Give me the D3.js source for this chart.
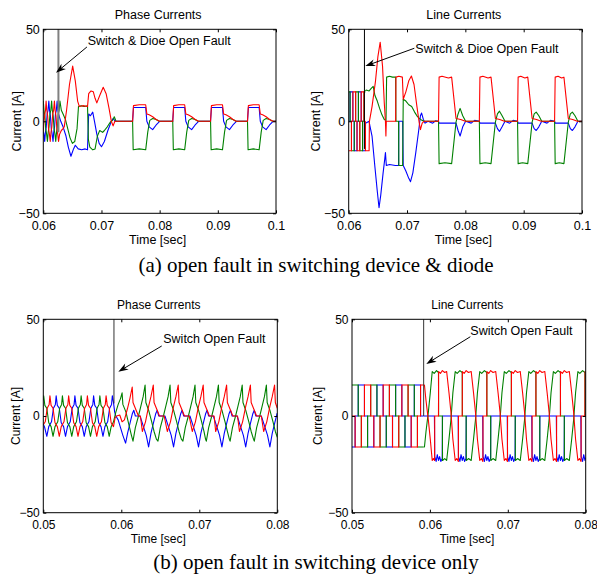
<!DOCTYPE html>
<html>
<head>
<meta charset="utf-8">
<script src="https://cdnjs.cloudflare.com/ajax/libs/d3/7.8.5/d3.min.js"></script>
<style>
  body { margin: 0; background: #fff; }
</style>
</head>
<body>
<div id="chart"></div>
<script>
// time values are in ms, currents in A

// ---- (a) top-left: phase currents, switch & diode open fault
var tlRed = [[60.0,-5.5],[60.12,0],[60.28,4],[60.38,6],[60.48,11],[60.6,6],[60.75,3],[60.9,-4],[61.05,-7],[61.19,-11],
  [61.32,-6],[61.47,-3],[61.62,4],[61.77,6],[61.91,11],[62.03,6],[62.18,3],[62.33,-4],[62.48,-7],[62.62,-11],
  [62.8,-7],[63.1,-5],[63.4,-4],[63.6,-3],[64.0,6],[64.5,20],[65.05,30],[65.5,22],[65.9,11],[66.2,8],[66.8,8.5],[67.6,8],
  [67.8,15],[68.2,16.5],[68.6,16],[68.9,12.5],[69.2,10],[69.7,14],[70.3,18.5],[70.8,15],[71.3,7],[71.7,0],[72.0,-2.5],[72.3,0],
  [75.35,0],[75.5,8.5],[76.5,9],[77.6,9],[77.8,4],[78.2,3.5],[78.8,2.5],[79.4,1],[80.0,0],
  [82.25,0],[82.4,8.5],[83.3,9],[84.3,9],[84.5,4],[84.9,3.5],[85.5,2.5],[86.1,1],[86.7,0],
  [88.75,0],[88.9,8.5],[89.8,9],[90.8,9],[91.0,4],[91.4,3.5],[92.0,2.5],[92.6,1],[93.2,0],
  [95.1,0],[95.25,8.5],[96.1,9],[97.1,9],[97.3,4],[97.7,3.5],[98.3,2.5],[98.9,1],[99.5,0],[100,0]];
var tlGreen = [[60.0,11],[60.12,6],[60.27,3],[60.42,-4],[60.57,-7],[60.71,-11],[60.84,-6],[60.99,-3],[61.14,4],[61.29,6],[61.43,11],
  [61.55,6],[61.7,3],[61.85,-4],[62.0,-7],[62.14,-11],[62.27,-6],[62.42,-3],[62.57,4],[62.72,6],[62.86,11],
  [63.1,6],[63.4,4],[63.8,1],[64.2,-4],[64.6,-9],[65.0,-12],[65.4,-11],[65.8,-4],[66.05,8],[66.5,8.5],[67.0,8],[67.6,8.5],
  [67.75,-10],[68.0,-14],[68.5,-15.5],[68.9,-15],[69.3,-8],[69.7,-5],[70.2,-6],[70.5,-5],[71.0,-3],[71.5,-0.5],[71.9,0.5],[72.2,2.5],[72.5,0],
  [75.35,0],[75.45,-15.5],[76.5,-15],[77.6,-15.5],[77.95,-6],[78.3,0.5],[78.8,1.5],[79.4,1],[79.9,0],
  [82.25,0],[82.35,-15.5],[83.3,-15],[84.3,-15.5],[84.65,-6],[85.0,0.5],[85.5,1.5],[86.1,1],[86.6,0],
  [88.75,0],[88.85,-15.5],[89.8,-15],[90.8,-15.5],[91.15,-6],[91.5,0.5],[92.0,1.5],[92.6,1],[93.1,0],
  [95.1,0],[95.2,-15.5],[96.1,-15],[97.1,-15.5],[97.45,-6],[97.8,0.5],[98.3,1.5],[98.9,1],[99.4,0],[100,0]];
var tlBlue = [[60.0,-5.5],[60.1,-7],[60.24,-11],[60.36,-6],[60.51,-3],[60.66,4],[60.81,6],[60.95,11],[61.07,6],[61.22,3],
  [61.37,-4],[61.52,-7],[61.67,-11],[61.79,-6],[61.94,-3],[62.09,4],[62.24,6],[62.38,11],[62.5,6],
  [62.7,3],[63.0,0],[63.4,-3],[63.9,-8],[64.3,-14],[64.75,-19],[65.2,-15],[65.5,-13],[66.0,-15],[66.6,-15.5],[67.2,-15],[67.6,-15.5],
  [67.8,4],[68.1,3],[68.5,5],[68.8,0],[69.2,-7],[69.6,-12],[70.0,-13.8],[70.5,-11],[71.1,-5],[71.7,0],[72.0,1.5],[72.4,0],
  [75.35,0],[75.5,7.5],[77.6,7.5],[77.8,0],[78.2,-3],[78.8,-4.5],[79.4,-2],[80.0,0],
  [82.25,0],[82.4,7.5],[84.3,7.5],[84.5,0],[84.9,-3],[85.5,-4.5],[86.1,-2],[86.7,0],
  [88.75,0],[88.9,7.5],[90.8,7.5],[91.0,0],[91.4,-3],[92.0,-4.5],[92.6,-2],[93.2,0],
  [95.1,0],[95.25,7.5],[97.1,7.5],[97.3,0],[97.7,-3],[98.3,-4.5],[98.9,-2],[99.5,0],[100,0]];

// ---- (a) top-right: line currents (six-step part before the fault, then traced points)
var trRedSteps = [[60,-16],[60.476,0],[60.714,16],[61.19,0],[61.428,-16],[61.904,0],[62.142,16],[62.618,0],[62.86,0]];
var trGreenSteps = [[60,16],[60.238,0],[60.476,-16],[60.952,0],[61.19,16],[61.666,0],[61.904,-16],[62.38,0],[62.618,16],[62.86,16]];
var trBlueSteps = [[60,0],[60.238,16],[60.714,0],[60.952,-16],[61.428,0],[61.666,16],[62.142,0],[62.38,-16],[62.86,-16]];
var trRed = [[62.86,0],[62.88,-16],[63.5,-16],[63.55,0],[64.0,8],[64.6,22],[65.0,35],[65.4,43],[65.8,30],[66.1,10],[66.3,0],[66.38,-8],[66.45,0],
  [68.05,0],[68.1,24],[68.6,24.5],[69.2,24],[69.35,12],[69.8,16],[70.3,22],[70.75,24.6],[71.2,20],[71.7,8],[72.1,-1],[72.3,-4.5],[72.6,-1],[72.9,0],
  [75.4,0],[75.5,24],[76.0,24.5],[77.1,23.5],[77.65,24],[78.4,1.5],[79.2,1],[80.0,0],
  [82.4,0],[82.5,24],[83.0,24.5],[83.9,23.5],[84.4,24],[85.15,1.5],[85.9,1],[86.7,0],
  [88.95,0],[89.05,24],[89.5,24.5],[90.2,23.5],[90.7,24],[91.45,1.5],[92.2,1],[93.0,0],
  [95.3,0],[95.4,24],[95.9,24.5],[96.5,23.5],[96.9,24],[97.65,1.5],[98.4,1],[99.2,0],[100,0]];
var trGreen = [[62.86,16.5],[63.0,17],[63.5,16.5],[63.9,18],[64.2,19],[64.5,14],[64.9,11],[65.3,7],[65.7,3.5],[66.1,1],[66.4,0.5],
  [66.5,24],[67.0,24.5],[67.5,24],[68.05,24],[68.1,0],[68.55,0],[68.6,-24],[69.25,-24],[69.35,12],[69.8,11],[70.3,9],[70.8,8],[71.3,5],[71.8,2.5],[72.3,1],[72.9,0],
  [75.4,0],[75.5,-23],[76.5,-22.5],[77.65,-23],[78.4,-0.5],[78.75,4],[79.1,7],[79.55,3],[80.05,0],
  [82.4,0],[82.5,-23],[83.4,-22.5],[84.4,-23],[85.15,-0.5],[85.5,4],[85.85,5.5],[86.3,3],[86.8,0],
  [88.95,0],[89.05,-23],[89.8,-22.5],[90.7,-23],[91.45,-0.5],[91.8,4],[92.15,5],[92.6,3],[93.1,0],
  [95.3,0],[95.4,-23],[96.1,-22.5],[96.9,-23],[97.65,-0.5],[98.0,4],[98.35,5],[98.8,3],[99.3,0],[100,0]];
var trBlue = [[62.86,-16],[62.88,-1],[63.5,0],[63.6,-2],[64.0,-8],[64.5,-25],[64.9,-38],[65.2,-47],[65.5,-40],[65.9,-28],[66.2,-20],[66.3,-17],
  [66.45,-24],[67.0,-23.5],[68.0,-24],[68.55,-24],[68.6,0],[69.25,0],[69.35,-24],[69.8,-27],[70.3,-31],[70.6,-32.8],[71.0,-28],[71.5,-17],
  [72.0,-5],[72.3,3],[72.5,4.5],[72.8,1],[73.1,-1],[73.6,0],[74.4,-1],[74.9,0.3],
  [75.4,0],[75.5,-1],[77.65,-1],[78.4,-1],[78.75,-5],[79.1,-8],[79.55,-3],[80.05,0],[81.0,-1],[81.6,0.5],
  [82.4,0],[82.5,-1],[84.4,-1],[85.15,-1],[85.5,-4],[85.85,-5.5],[86.3,-3],[86.8,0],[87.6,-1],[88.2,0.5],
  [88.95,0],[89.05,-1],[90.7,-1],[91.45,-1],[91.8,-4],[92.15,-5],[92.6,-3],[93.1,0],[94.0,-1],[94.6,0.5],
  [95.3,0],[95.4,-1],[96.9,-1],[97.65,-1],[98.0,-4],[98.35,-5],[98.8,-3],[99.3,0],[100,0]];

// ---- (b) bottom-left: phase currents, switch open fault
var blRed = [[50.0,-4.5],[50.25,-3],[50.5,4],[50.75,6],[50.85,10.5],[51.0,5.5],[51.25,4],[51.5,-3.5],[51.8,-5.5],[52.05,-10.5],
  [52.3,-5.5],[52.65,-3],[52.9,4],[53.15,6],[53.25,10.5],[53.4,5.5],[53.65,4],[53.9,-3.5],[54.2,-5.5],[54.45,-10.5],
  [54.7,-5.5],[55.05,-3],[55.3,4],[55.55,6],[55.65,10.5],[55.8,5.5],[56.05,4],[56.3,-3.5],[56.6,-5.5],[56.85,-10.5],
  [57.1,-5.5],[57.45,-3],[57.7,4],[57.95,6],[58.05,10.5],[58.2,5.5],[58.45,4],[58.7,-3.5],[59.0,-5.5],
  [59.2,-1],[59.4,0],[59.8,0.5],[60.1,-3],[60.4,-2],[60.8,4],[61.1,9],[61.4,15],[61.5,7],[61.9,3],[62.2,0],[62.45,0],
  [62.7,-8],[63.1,-3],[63.5,5],[63.8,10],[64.1,16],[64.2,7],[64.6,3],[64.9,0],[65.5,0],
  [65.9,-8],[66.3,-3],[66.7,5],[67.0,10],[67.3,16],[67.4,7],[67.8,3],[68.1,0],[68.7,0],
  [69.1,-8],[69.5,-3],[69.9,5],[70.2,10],[70.5,16],[70.6,7],[71.0,3],[71.3,0],[71.9,0],
  [72.1,-8],[72.5,-3],[72.9,5],[73.2,10],[73.5,16],[73.6,7],[74.0,3],[74.3,0],[74.9,0],
  [75.15,-8],[75.55,-3],[75.95,5],[76.25,10],[76.55,16],[76.65,7],[77.05,3],[77.35,0],[77.95,0],
  [78.25,-8],[78.65,-3],[79.05,5],[79.35,10],[79.65,16],[79.75,7],[80.0,4]];
var blGreen = [[50.0,8],[50.05,10.5],[50.2,5.5],[50.45,4],[50.7,-3.5],[51.0,-5.5],[51.25,-10.5],
  [51.5,-5.5],[51.85,-3],[52.1,4],[52.35,6],[52.45,10.5],[52.6,5.5],[52.85,4],[53.1,-3.5],[53.4,-5.5],[53.65,-10.5],
  [53.9,-5.5],[54.25,-3],[54.5,4],[54.75,6],[54.85,10.5],[55.0,5.5],[55.25,4],[55.5,-3.5],[55.8,-5.5],[56.05,-10.5],
  [56.3,-5.5],[56.65,-3],[56.9,4],[57.15,6],[57.25,10.5],[57.4,5.5],[57.65,4],[57.9,-3.5],[58.2,-5.5],[58.45,-10.5],
  [58.7,-5.5],[59.0,-3],[59.3,2],[59.6,6],[59.9,9],[60.1,12],[60.2,6],[60.6,2],[61.0,-5],[61.3,-10],
  [61.5,-13],[61.8,-6],[62.2,0],[62.5,5],[62.8,10],[63.05,16],[63.15,7],[63.5,3],[63.9,-3],[64.2,-8],[64.5,-12],
  [64.7,-13],[65.0,-6],[65.4,0],[65.7,5],[66.0,10],[66.25,16],[66.35,7],[66.7,3],[67.1,-3],[67.4,-8],[67.7,-12],
  [67.9,-13],[68.2,-6],[68.6,0],[68.9,5],[69.2,10],[69.45,16],[69.55,7],[69.9,3],[70.3,-3],[70.6,-8],[70.8,-12],
  [70.9,-13],[71.2,-6],[71.6,0],[71.9,5],[72.2,10],[72.45,16],[72.55,7],[72.9,3],[73.3,-3],[73.6,-8],[73.85,-12],
  [73.95,-13],[74.25,-6],[74.65,0],[74.95,5],[75.25,10],[75.5,16],[75.6,7],[75.95,3],[76.35,-3],[76.65,-8],[76.95,-12],
  [77.05,-13],[77.35,-6],[77.75,0],[78.05,5],[78.35,10],[78.6,16],[78.7,7],[79.05,3],[79.45,-3],[79.75,-8],[80.0,-11]];
var blBlue = [[50.0,-4.2],[50.15,-5.5],[50.45,-10.5],[50.7,-5.5],[51.05,-3],[51.3,4],[51.55,6],[51.65,10.5],[51.8,5.5],[52.05,4],[52.3,-3.5],[52.6,-5.5],[52.85,-10.5],
  [53.1,-5.5],[53.45,-3],[53.7,4],[53.95,6],[54.05,10.5],[54.2,5.5],[54.45,4],[54.7,-3.5],[55.0,-5.5],[55.25,-10.5],
  [55.5,-5.5],[55.85,-3],[56.1,4],[56.35,6],[56.45,10.5],[56.6,5.5],[56.85,4],[57.1,-3.5],[57.4,-5.5],[57.65,-10.5],
  [57.9,-5.5],[58.25,-3],[58.5,4],[58.75,6],[58.85,10.5],[59.0,7],
  [59.15,2],[59.3,0],[59.6,-2],[59.9,-6],[60.2,-10],[60.55,-14],[60.8,-9],[61.1,-4],[61.4,1],[61.6,3],[61.8,0],[62.4,0],
  [62.8,-5],[63.2,-10],[63.5,-16],[63.8,-9],[64.1,-4],[64.4,1],[64.6,3],[64.8,0],[65.6,0],
  [66.0,-5],[66.4,-10],[66.7,-16],[67.0,-9],[67.3,-4],[67.6,1],[67.8,3],[68.0,0],[68.8,0],
  [69.2,-5],[69.6,-10],[69.9,-16],[70.2,-9],[70.5,-4],[70.8,1],[71.0,3],[71.2,0],[71.8,0],
  [72.2,-5],[72.6,-10],[72.9,-16],[73.2,-9],[73.5,-4],[73.8,1],[74.0,3],[74.2,0],[74.85,0],
  [75.25,-5],[75.65,-10],[75.95,-16],[76.25,-9],[76.55,-4],[76.85,1],[77.05,3],[77.25,0],[77.95,0],
  [78.35,-5],[78.75,-10],[79.05,-16],[79.35,-9],[79.65,-4],[79.95,1],[80.0,1.5]];

// ---- (b) bottom-right: line currents
var brRedSteps = [[50,0],[50.4,-16],[51.2,0],[51.6,16],[52.4,0],[52.8,-16],[53.6,0],[54.0,16],[54.8,0],[55.2,-16],[56.0,0],[56.4,16],[57.2,0],[57.6,-16],[58.4,0],[58.8,16],[59.2,16]];
var brGreenSteps = [[50,16],[50.8,0],[51.2,-16],[52.0,0],[52.4,16],[53.2,0],[53.6,-16],[54.4,0],[54.8,16],[55.6,0],[56.0,-16],[56.8,0],[57.2,16],[58.0,0],[58.4,-16],[59.2,-16]];
var brBlueSteps = [[50,-16],[50.4,0],[50.8,16],[51.6,0],[52.0,-16],[52.8,0],[53.2,16],[54.0,0],[54.4,-16],[55.2,0],[55.6,16],[56.4,0],[56.8,-16],[57.6,0],[58.0,16],[58.8,0],[59.2,0]];
var brRed = [[59.2,16],[59.3,16],[59.5,8],[59.8,-2],[60.05,-12],[60.3,-23],[60.45,-22],[60.6,-23],[60.62,0],[61.1,0],[61.12,23],[61.35,22],[61.6,23.5],[61.9,22.5],[62.15,23],
  [62.45,12],[62.7,2],[62.95,-12],[63.25,-23],[63.45,-22],[63.65,-23.5],[63.67,0],[64.15,0],[64.17,23],[64.4,22],[64.65,23.5],[64.95,22.5],[65.3,23],
  [65.6,12],[65.85,2],[66.1,-12],[66.4,-23],[66.6,-22],[66.8,-23.5],[66.82,0],[67.3,0],[67.32,23],[67.55,22],[67.8,23.5],[68.1,22.5],[68.45,23],
  [68.75,12],[69.0,2],[69.25,-12],[69.55,-23],[69.75,-22],[69.95,-23.5],[69.97,0],[70.45,0],[70.47,23],[70.7,22],[70.95,23.5],[71.25,22.5],[71.6,23],
  [71.9,12],[72.15,2],[72.4,-12],[72.7,-23],[72.9,-22],[73.1,-23.5],[73.12,0],[73.6,0],[73.62,23],[73.85,22],[74.1,23.5],[74.4,22.5],[74.75,23],
  [75.05,12],[75.3,2],[75.55,-12],[75.85,-23],[76.05,-22],[76.25,-23.5],[76.27,0],[76.75,0],[76.77,23],[77.0,22],[77.25,23.5],[77.55,22.5],[77.9,23],
  [78.2,12],[78.45,2],[78.7,-12],[79.0,-23],[79.2,-22],[79.4,-23.5],[79.42,0],[79.9,0],[79.92,23],[80.0,23]];
var brGreen = [[59.2,-16],[59.3,-16],[59.5,-8],[59.8,2],[60.05,12],[60.3,23],[60.55,22],[60.85,23.5],[61.1,22.5],[61.12,0],[61.6,0],[61.62,-23],[61.9,-22],[62.15,-23],
  [62.45,-12],[62.7,-2],[62.95,12],[63.25,23],[63.5,22],[63.85,23.5],[64.15,22.5],[64.17,0],[64.65,0],[64.67,-23],[64.95,-22],[65.3,-23],
  [65.6,-12],[65.85,-2],[66.1,12],[66.4,23],[66.65,22],[67.0,23.5],[67.3,22.5],[67.32,0],[67.8,0],[67.82,-23],[68.1,-22],[68.45,-23],
  [68.75,-12],[69.0,-2],[69.25,12],[69.55,23],[69.8,22],[70.15,23.5],[70.45,22.5],[70.47,0],[70.95,0],[70.97,-23],[71.25,-22],[71.6,-23],
  [71.9,-12],[72.15,-2],[72.4,12],[72.7,23],[72.95,22],[73.3,23.5],[73.6,22.5],[73.62,0],[74.1,0],[74.12,-23],[74.4,-22],[74.75,-23],
  [75.05,-12],[75.3,-2],[75.55,12],[75.85,23],[76.1,22],[76.45,23.5],[76.75,22.5],[76.77,0],[77.25,0],[77.27,-23],[77.55,-22],[77.9,-23],
  [78.2,-12],[78.45,-2],[78.7,12],[79.0,23],[79.25,22],[79.6,23.5],[79.9,22.5],[79.92,0],[80.0,0]];
var brBlue = [[59.2,0],[60.58,0],[60.62,-21],[60.8,-23.5],[60.95,-20],[61.1,-23],[61.25,-21],[61.4,-23.5],[61.58,-22],[61.62,0],
  [63.63,0],[63.67,-21],[63.85,-23.5],[64.0,-20],[64.15,-23],[64.3,-21],[64.45,-23.5],[64.63,-22],[64.67,0],
  [66.78,0],[66.82,-21],[67.0,-23.5],[67.15,-20],[67.3,-23],[67.45,-21],[67.6,-23.5],[67.78,-22],[67.82,0],
  [69.93,0],[69.97,-21],[70.15,-23.5],[70.3,-20],[70.45,-23],[70.6,-21],[70.75,-23.5],[70.93,-22],[70.97,0],
  [73.08,0],[73.12,-21],[73.3,-23.5],[73.45,-20],[73.6,-23],[73.75,-21],[73.9,-23.5],[74.08,-22],[74.12,0],
  [76.23,0],[76.27,-21],[76.45,-23.5],[76.6,-20],[76.75,-23],[76.9,-21],[77.05,-23.5],[77.23,-22],[77.27,0],
  [79.38,0],[79.42,-21],[79.6,-23.5],[79.75,-20],[79.9,-23],[80.0,-21.5]];

// ticks
var xTicksA = [60, 70, 80, 90, 100];
var xTicksB = [50, 60, 70, 80];
var yTicks = [-50, 0, 50];

// fault marker: [time, top, bottom]
var faultA1 = [62.6, 50, -6];
var faultA2 = [62.7, 50, -15];
var faultB1 = [59.06, 50, 6.5];
var faultB2 = [59.2, 50, 0];

var noteA = "Switch & Dioe Open Fault";
var noteB = "Switch Open Fault";

var svgWidth = 597;
var svgHeight = 575;

var svg = d3.select("#chart")
  .append("svg")
  .attr("width", svgWidth)
  .attr("height", svgHeight);

var sans = "'Liberation Sans', Arial, sans-serif";

var panels = [
  { id: "tl", title: "Phase Currents", left: 43.3, right: 276, top: 29.3, bottom: 213.3, domain: [60, 100], ticks: xTicksA,
    steps: null, red: tlRed, green: tlGreen, blue: tlBlue,
    fault: faultA1, faultColor: "#808080", faultWidth: 2,
    note: noteA, noteAt: [67.63, 41.5], arrowFrom: [67.5, 40.4], arrowTo: [62.18, 26.4], ylabelX: 21, fs: 12.5 },
  { id: "tr", title: "Line Currents", left: 348.7, right: 582, top: 29.3, bottom: 213.3, domain: [60, 100], ticks: xTicksA,
    steps: [trRedSteps, trGreenSteps, trBlueSteps], red: trRed, green: trGreen, blue: trBlue,
    fault: faultA2, faultColor: "#000", faultWidth: 1,
    note: noteA, noteAt: [71.42, 37.3], arrowFrom: [71.25, 39.7], arrowTo: [62.85, 30], ylabelX: 320, fs: 12.5 },
  { id: "bl", title: "Phase Currents", left: 43.3, right: 277.3, top: 319.3, bottom: 512.7, domain: [50, 80], ticks: xTicksB,
    steps: null, red: blRed, green: blGreen, blue: blBlue,
    fault: faultB1, faultColor: "#333", faultWidth: 1,
    note: noteB, noteAt: [65.38, 38], arrowFrom: [65.18, 36.2], arrowTo: [59.62, 22.9], ylabelX: 20, fs: 12 },
  { id: "br", title: "Line Currents", left: 352, right: 585.7, top: 319.3, bottom: 512.7, domain: [50, 80], ticks: xTicksB,
    steps: [brRedSteps, brGreenSteps, brBlueSteps], red: brRed, green: brGreen, blue: brBlue,
    fault: faultB2, faultColor: "#333", faultWidth: 1,
    note: noteB, noteAt: [65.19, 42], arrowFrom: [65.19, 41], arrowTo: [59.54, 26.9], ylabelX: 322, fs: 12 }
];

var colors = { red: "#ff0000", green: "#008000", blue: "#0000ff" };

panels.forEach(drawPanel);

// captions
svg.append("text")
  .attr("x", 316).attr("y", 272)
  .attr("text-anchor", "middle")
  .attr("font-family", "'Liberation Serif', 'Times New Roman', serif")
  .attr("font-size", 21)
  .text("(a) open fault in switching device & diode");

svg.append("text")
  .attr("x", 316).attr("y", 569)
  .attr("text-anchor", "middle")
  .attr("font-family", "'Liberation Serif', 'Times New Roman', serif")
  .attr("font-size", 21)
  .text("(b) open fault in switching device only");

function drawPanel(p) {
  var x = d3.scaleLinear().domain(p.domain).range([p.left, p.right]);
  var y = d3.scaleLinear().domain([-50, 50]).range([p.bottom, p.top]);
  var g = svg.append("g");

  // clip for the traces
  svg.append("clipPath").attr("id", "clip-" + p.id)
    .append("rect")
    .attr("x", p.left).attr("y", p.top)
    .attr("width", p.right - p.left).attr("height", p.bottom - p.top);

  var plot = g.append("g").attr("clip-path", "url(#clip-" + p.id + ")");

  var line = d3.line().x(d => x(d[0])).y(d => y(d[1]));
  var stepLine = d3.line().curve(d3.curveStepAfter).x(d => x(d[0])).y(d => y(d[1]));

  // draw order: blue, green, red (red on top)
  var order = [["blue", p.blue, 2], ["green", p.green, 1], ["red", p.red, 0]];
  order.forEach(function(o) {
    if (p.steps) {
      plot.append("path")
        .attr("d", stepLine(p.steps[o[2]]))
        .attr("fill", "none")
        .attr("stroke", colors[o[0]])
        .attr("stroke-width", 1.1);
    }
    plot.append("path")
      .attr("d", line(o[1]))
      .attr("fill", "none")
      .attr("stroke", colors[o[0]])
      .attr("stroke-width", 1.1)
      .attr("stroke-linejoin", "round");
  });

  // fault marker
  g.append("line")
    .attr("x1", x(p.fault[0])).attr("x2", x(p.fault[0]))
    .attr("y1", y(p.fault[1])).attr("y2", y(p.fault[2]))
    .attr("stroke", p.faultColor)
    .attr("stroke-width", p.faultWidth);

  // axes
  var bottomAxis = d3.axisBottom(x).tickValues(p.ticks).tickSize(-3).tickPadding(7.5)
    .tickFormat(d => String(d / 1000));
  var topAxis = d3.axisTop(x).tickValues(p.ticks).tickSize(-3).tickFormat("");
  var leftAxis = d3.axisLeft(y).tickValues(yTicks).tickSize(-3).tickPadding(3.5);
  var rightAxis = d3.axisRight(y).tickValues(yTicks).tickSize(-3).tickFormat("");

  [[bottomAxis, 0, p.bottom], [topAxis, 0, p.top], [leftAxis, p.left, 0], [rightAxis, p.right, 0]].forEach(function(a) {
    var ag = g.append("g")
      .attr("transform", `translate(${a[1]}, ${a[2]})`)
      .call(a[0]);
    ag.select(".domain").remove();
    ag.selectAll("text")
      .attr("font-family", sans)
      .attr("font-size", p.fs)
      .attr("fill", "#000");
  });

  // frame
  g.append("rect")
    .attr("x", p.left).attr("y", p.top)
    .attr("width", p.right - p.left).attr("height", p.bottom - p.top)
    .attr("fill", "none")
    .attr("stroke", "#000")
    .attr("stroke-width", 1);

  var cx = (p.left + p.right) / 2;

  // title
  g.append("text")
    .attr("x", cx - 1.5).attr("y", p.top - 10.5)
    .attr("text-anchor", "middle")
    .attr("font-family", sans)
    .attr("font-size", p.fs)
    .text(p.title);

  // axis labels
  g.append("text")
    .attr("x", cx - 2).attr("y", p.bottom + 30.5)
    .attr("text-anchor", "middle")
    .attr("font-family", sans)
    .attr("font-size", p.fs)
    .text("Time [sec]");

  g.append("text")
    .attr("transform", `translate(${p.ylabelX}, ${(p.top + p.bottom) / 2}) rotate(-90)`)
    .attr("text-anchor", "middle")
    .attr("font-family", sans)
    .attr("font-size", p.fs)
    .text("Current [A]");

  // annotation
  g.append("text")
    .attr("x", x(p.noteAt[0])).attr("y", y(p.noteAt[1]))
    .attr("font-family", sans)
    .attr("font-size", 12.5)
    .text(p.note);

  var x1 = x(p.arrowFrom[0]), y1 = y(p.arrowFrom[1]);
  var x2 = x(p.arrowTo[0]), y2 = y(p.arrowTo[1]);
  var ang = Math.atan2(y2 - y1, x2 - x1);
  var L = 10, W = 3.5;
  var ca = Math.cos(ang), sa = Math.sin(ang);
  g.append("line")
    .attr("x1", x1).attr("y1", y1)
    .attr("x2", x2 - ca * 6).attr("y2", y2 - sa * 6)
    .attr("stroke", "#000").attr("stroke-width", 1);
  var head = [
    [x2, y2],
    [x2 - L * ca - W * sa, y2 - L * sa + W * ca],
    [x2 - 0.7 * L * ca, y2 - 0.7 * L * sa],
    [x2 - L * ca + W * sa, y2 - L * sa - W * ca]
  ];
  g.append("path")
    .attr("d", "M" + head.map(d => d.join(",")).join("L") + "Z")
    .attr("fill", "#000");
}
</script>
</body>
</html>
